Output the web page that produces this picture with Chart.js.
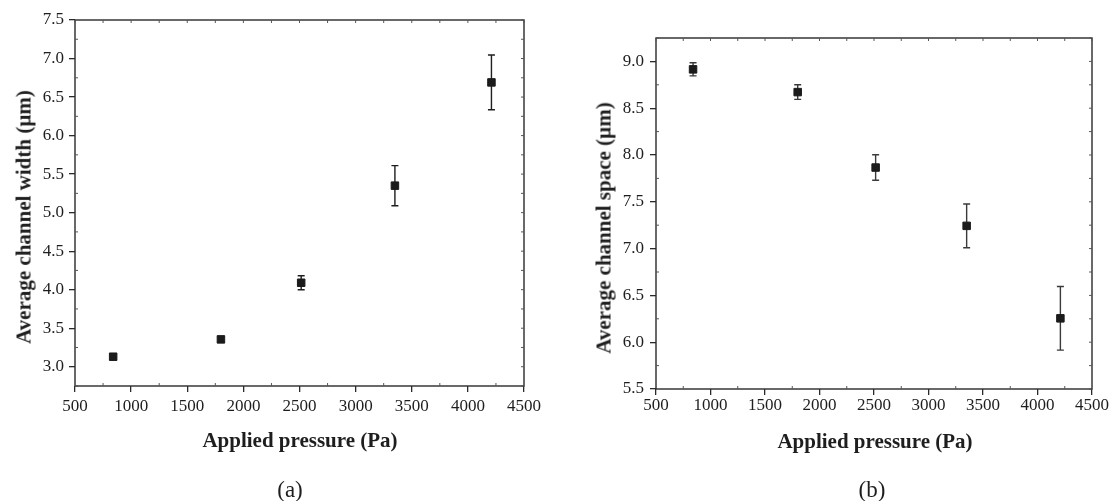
<!DOCTYPE html>
<html>
<head>
<meta charset="utf-8">
<script src="https://cdn.jsdelivr.net/npm/chart.js@4.4.1/dist/chart.umd.min.js"></script>
<style>
  html, body { margin: 0; padding: 0; background: #fff; }
  #wrap { position: relative; width: 1110px; height: 501px; overflow: hidden; }
  #wrap canvas { position: absolute; left: 0; top: 0; }
  .lbl {
    position: absolute;
    font-family: "Liberation Serif", "Times New Roman", serif;
    color: #1e1e1e;
    white-space: nowrap;
    transform: translate(-50%, -50%);
  }
  .ttl { font-weight: bold; font-size: 21px; }
  .ytl { transform: translate(-50%, -50%) rotate(-90deg); }
  .cap { font-size: 23px; }
</style>
</head>
<body>
<div id="wrap">
  <canvas id="chartA" width="1110" height="501"></canvas>
  <canvas id="chartB" width="1110" height="501"></canvas>

  <div class="lbl ttl ytl" style="left:24px; top:217px;">Average channel width (µm)</div>
  <div class="lbl ttl" style="left:300px; top:440px;">Applied pressure (Pa)</div>
  <div class="lbl cap" style="left:290px; top:490px;">(a)</div>

  <div class="lbl ttl ytl" style="left:604px; top:228px;">Average channel space (µm)</div>
  <div class="lbl ttl" style="left:875px; top:441px;">Applied pressure (Pa)</div>
  <div class="lbl cap" style="left:872px; top:490px;">(b)</div>
</div>

<script>
// applied pressure (Pa), same for both panels
var pressure = [840, 1800, 2515, 3350, 4210];

// (a) average channel width (um) and its spread
var widthMean = [3.13, 3.355, 4.09, 5.35, 6.69];
var widthErr  = [0.03, 0.03, 0.09, 0.26, 0.355];

// (b) average channel space (um) and its spread
var spaceMean = [8.915, 8.672, 7.866, 7.243, 6.255];
var spaceErr  = [0.07, 0.078, 0.136, 0.234, 0.34];

// axis ranges / tick steps
var xTicks = { min: 500, max: 4500, step: 500, minor: 250 };
var yTicksA = { min: 2.75, max: 7.5, step: 0.5, minor: 0.25 };
var yTicksB = { min: 5.5, max: 9.25, step: 0.5, minor: 0.25 };

Chart.defaults.font.family = '"Liberation Serif", "Times New Roman", serif';
Chart.defaults.font.size = 17;
Chart.defaults.color = '#1e1e1e';

// vertical error bars with caps, drawn under the markers
var errorBars = {
  id: 'errorBars',
  beforeDatasetsDraw: function(chart, args, opts) {
    var ctx = chart.ctx;
    var x = chart.scales.x, y = chart.scales.y;
    chart.data.datasets.forEach(function(ds) {
      if (!ds.errors) return;
      ctx.save();
      ctx.strokeStyle = opts.color || '#222';
      ctx.lineWidth = 1.4;
      ds.data.forEach(function(p, i) {
        var e = ds.errors[i];
        var px = x.getPixelForValue(p.x);
        var top = y.getPixelForValue(p.y + e);
        var bot = y.getPixelForValue(p.y - e);
        ctx.beginPath();
        ctx.moveTo(px, top); ctx.lineTo(px, bot);
        ctx.moveTo(px - 3.5, top); ctx.lineTo(px + 3.5, top);
        ctx.moveTo(px - 3.5, bot); ctx.lineTo(px + 3.5, bot);
        ctx.stroke();
      });
      ctx.restore();
    });
  }
};

// closed box with minor ticks and mirrored ticks on top/right
var frame = {
  id: 'frame',
  afterDraw: function(chart, args, opts) {
    var ctx = chart.ctx, a = chart.chartArea;
    var x = chart.scales.x, y = chart.scales.y;
    ctx.save();
    ctx.strokeStyle = '#2a2a2a';
    ctx.lineWidth = 1.4;
    ctx.strokeRect(a.left, a.top, a.right - a.left, a.bottom - a.top);

    ctx.lineWidth = 1;
    ctx.strokeStyle = '#555';
    ctx.beginPath();
    var n = Math.round((x.max - x.min) / opts.xMinor);
    for (var i = 0; i <= n; i++) {
      var px = x.getPixelForValue(x.min + i * opts.xMinor);
      ctx.moveTo(px, a.top); ctx.lineTo(px, a.top + 3);
      if (i % 2) { ctx.moveTo(px, a.bottom); ctx.lineTo(px, a.bottom - 3); }
    }
    var m = Math.round((y.max - y.min) / opts.yMinor);
    for (var j = 0; j <= m; j++) {
      var v = y.min + j * opts.yMinor;
      var py = y.getPixelForValue(v);
      ctx.moveTo(a.right, py); ctx.lineTo(a.right - 3, py);
      var isMajor = Math.abs(v / 0.5 - Math.round(v / 0.5)) < 1e-6;
      if (!isMajor) { ctx.moveTo(a.left, py); ctx.lineTo(a.left + 3, py); }
    }
    ctx.stroke();
    ctx.restore();
  }
};

function makeChart(id, values, errors, yr, box) {
  return new Chart(document.getElementById(id), {
    type: 'scatter',
    data: {
      datasets: [{
        data: pressure.map(function(p, i) { return { x: p, y: values[i] }; }),
        errors: errors,
        pointStyle: 'rect',
        pointRadius: 5.3,
        borderWidth: 1,
        backgroundColor: '#1b1b1b',
        borderColor: '#1b1b1b'
      }]
    },
    options: {
      responsive: false,
      animation: false,
      events: [],
      layout: { padding: { left: 0, top: box.top, right: 1110 - box.right, bottom: 0 } },
      plugins: {
        legend: { display: false },
        tooltip: { enabled: false },
        errorBars: { color: box.barColor },
        frame: { xMinor: xTicks.minor, yMinor: yr.minor }
      },
      scales: {
        x: {
          type: 'linear',
          min: xTicks.min, max: xTicks.max,
          ticks: { stepSize: xTicks.step, padding: box.xPad, maxRotation: 0, autoSkip: false,
                   callback: function(v) { return String(v); } },
          grid: { drawOnChartArea: false, tickLength: 6, color: '#2a2a2a', lineWidth: 1.3 },
          border: { display: false },
          afterFit: function(s) { s.height = 501 - box.bottom; }
        },
        y: {
          type: 'linear',
          min: yr.min, max: yr.max,
          ticks: { stepSize: yr.step, includeBounds: false, padding: box.yPad,
                   callback: function(v) { return v.toFixed(1); } },
          grid: { drawOnChartArea: false, tickLength: 6, color: '#2a2a2a', lineWidth: 1.3 },
          border: { display: false },
          afterFit: function(s) { s.width = box.left; }
        }
      }
    },
    plugins: [errorBars, frame]
  });
}

makeChart('chartA', widthMean, widthErr, yTicksA,
  { left: 75, right: 524, top: 20, bottom: 386, xPad: 4, yPad: 5, barColor: '#1e1e1e' });
makeChart('chartB', spaceMean, spaceErr, yTicksB,
  { left: 656, right: 1092, top: 38, bottom: 389, xPad: 0, yPad: 6, barColor: '#3a3a3a' });
</script>
</body>
</html>
